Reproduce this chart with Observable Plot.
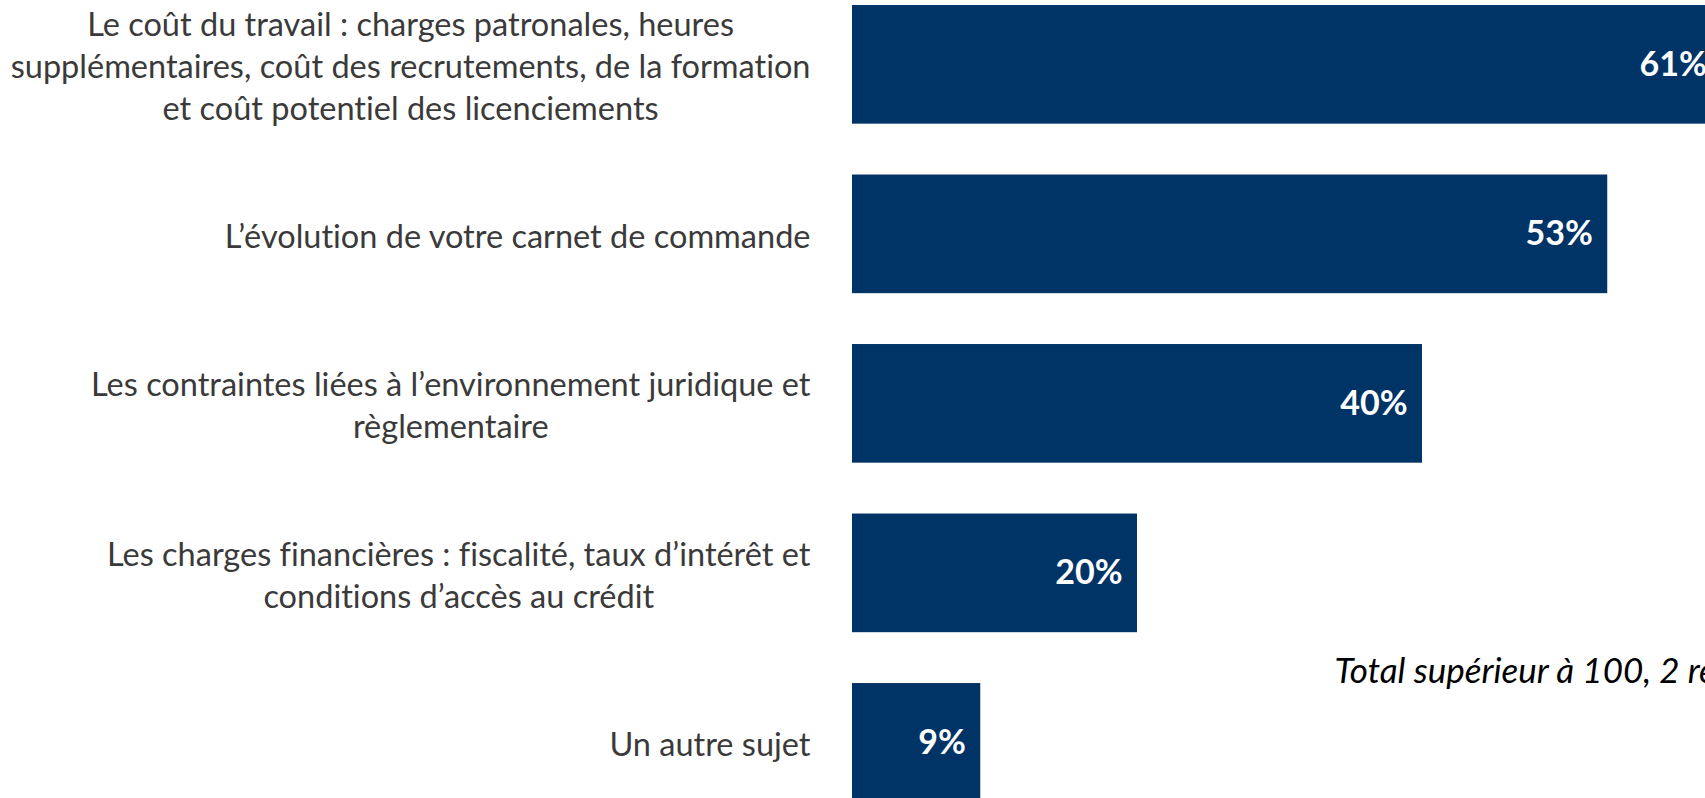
<!DOCTYPE html>
<html><head><meta charset="utf-8">
<script src="https://cdn.jsdelivr.net/npm/d3@7"></script>
<script src="https://cdn.jsdelivr.net/npm/@observablehq/plot@0.6"></script>
<style>
html,body{margin:0;padding:0;background:#fff;overflow:hidden;}
#chart{width:1705px;height:798px;overflow:hidden;position:relative;}
#chart svg text{font-variant-ligatures:none;}
</style></head><body><div id="chart"></div>
<script>
const categories = ["travail", "carnet", "juridique", "financier", "autre"];
const tickLabels = [
  "Le coût du travail : charges patronales, heures\nsupplémentaires, coût des recrutements, de la formation\net coût potentiel des licenciements",
  "L’évolution de votre carnet de commande",
  "Les contraintes liées à l’environnement juridique et\nrèglementaire",
  "Les charges financières : fiscalité, taux d’intérêt et\nconditions d’accès au crédit",
  "Un autre sujet"
];
const values = [61, 53, 40, 20, 9];
const valueLabels = ["61%", "53%", "40%", "20%", "9%"];
const note = "Total supérieur à 100, 2 réponses possibles";

const data = categories.map((c, i) => ({category: c, value: values[i], label: valueLabels[i]}));
const tickMap = new Map(categories.map((c, i) => [c, tickLabels[i]]));

const svg = Plot.plot({
  width: 1705, height: 798,
  marginLeft: 852, marginRight: 0, marginTop: 0, marginBottom: 0,
  style: {fontFamily: "Lato, 'Open Sans', sans-serif", background: "#fff", overflow: "hidden"},
  x: {domain: [0, 100], range: [852, 2277], axis: null},
  y: {domain: categories, range: [5, 801.7], paddingInner: 0.3, paddingOuter: 0, round: false, axis: null},
  marks: [
    Plot.barX(data, {x: "value", y: "category", fill: "#003366"}),
    Plot.text(data, {x: "value", y: "category", text: "label", textAnchor: "end", dx: -15, fill: "white", fontWeight: "bold", fontSize: 34}),
    Plot.axisY({anchor: "left", label: null, tickSize: 0, tickPadding: 42, fontSize: 32.5, fill: "#3a3a3a", lineHeight: 1.29, textAnchor: "end", tickFormat: d => tickMap.get(d)}),
    Plot.text([note], {frameAnchor: "top-left", dx: 482, dy: 658, text: d => d, textAnchor: "start", fontStyle: "italic", fontSize: 35, fill: "#000"})
  ]
});
document.getElementById("chart").appendChild(svg);

// center the lines of multi-line labels within their right-aligned block
svg.querySelectorAll('g[aria-label="y-axis tick label"] text').forEach(t => {
  const spans = t.querySelectorAll("tspan");
  if (spans.length < 2) return;
  const widths = Array.from(spans, s => s.getComputedTextLength());
  const W = Math.max(...widths);
  spans.forEach((s, i) => s.setAttribute("x", -(W - widths[i]) / 2));
});
</script></body></html>
